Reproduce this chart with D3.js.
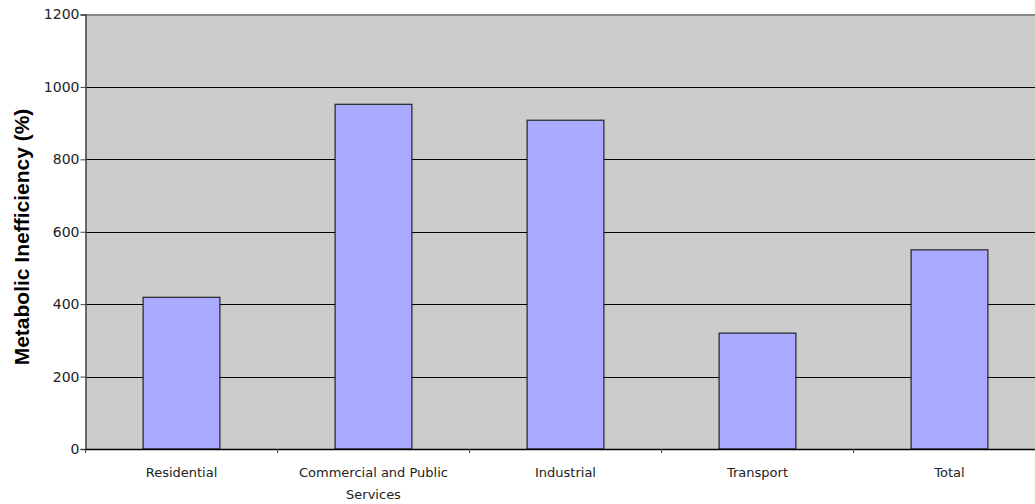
<!DOCTYPE html>
<html>
<head>
<meta charset="utf-8">
<script src="https://cdn.jsdelivr.net/npm/d3@7"></script>
<style>
  html, body { margin: 0; padding: 0; background: #fff; }
  svg { display: block; }
</style>
</head>
<body>
<svg id="chart" width="1035" height="504"></svg>
<script>
// Metabolic inefficiency by sector
const categories = ["Residential", "Commercial and Public Services", "Industrial", "Transport", "Total"];
const categoryLines = [["Residential"], ["Commercial and Public", "Services"], ["Industrial"], ["Transport"], ["Total"]];
const values = [419, 952, 908, 320, 550];
const yTicks = [0, 200, 400, 600, 800, 1000, 1200];
const yTitle = "Metabolic Inefficiency (%)";

const svg = d3.select("#chart");
const plotLeft = 85.5, plotTop = 14.5, plotBottom = 449, band = 192;
const plotRight = plotLeft + band * categories.length;

const x = d3.scaleBand().domain(categories).range([plotLeft, plotRight]).padding(0);
const y = d3.scaleLinear().domain([0, 1200]).range([plotBottom, plotTop]);

// plot background
svg.append("rect")
  .attr("x", plotLeft).attr("y", plotTop)
  .attr("width", plotRight - plotLeft).attr("height", plotBottom - plotTop)
  .attr("fill", "#cccccc");

// horizontal gridlines
svg.append("g")
  .selectAll("line")
  .data(yTicks.filter(d => d > 0 && d < 1200))
  .join("line")
  .attr("x1", plotLeft).attr("x2", plotRight)
  .attr("y1", d => Math.round(y(d)) + 0.5).attr("y2", d => Math.round(y(d)) + 0.5)
  .attr("stroke", "#000").attr("stroke-width", 1);

// top border
svg.append("line")
  .attr("x1", plotLeft).attr("x2", plotRight)
  .attr("y1", plotTop + 0.5).attr("y2", plotTop + 0.5)
  .attr("stroke", "#888").attr("stroke-width", 2);

// bars
const barW = x.bandwidth() * 0.4;
svg.append("g")
  .selectAll("rect")
  .data(values)
  .join("rect")
  .attr("x", (d, i) => x(categories[i]) + (x.bandwidth() - barW) / 2)
  .attr("y", d => y(d))
  .attr("width", barW)
  .attr("height", d => plotBottom - y(d))
  .attr("fill", "#aaaaff")
  .attr("stroke", "#222")
  .attr("stroke-width", 1.2);

// y axis
const yAxis = d3.axisLeft(y).tickValues(yTicks).tickFormat(d3.format("d")).tickSize(5).tickPadding(1);
const gy = svg.append("g").attr("transform", `translate(${plotLeft},0)`).call(yAxis);
gy.select(".domain").attr("stroke", "#444").attr("stroke-width", 1.5);
gy.selectAll(".tick line").attr("stroke", "#444");
gy.selectAll(".tick text")
  .attr("font-family", "DejaVu Sans, sans-serif")
  .attr("font-size", 14)
  .attr("fill", "#222");

// x axis
const xAxis = d3.axisBottom(x).tickSize(0).tickFormat(() => "");
const gx = svg.append("g").attr("transform", `translate(0,${plotBottom})`).call(xAxis);
gx.select(".domain").attr("stroke", "#000").attr("stroke-width", 1.5);

// category boundary ticks
svg.append("g")
  .selectAll("line")
  .data(categories.slice(1).map(c => x(c)).concat([plotLeft]))
  .join("line")
  .attr("x1", d => d).attr("x2", d => d)
  .attr("y1", plotBottom).attr("y2", plotBottom + 4)
  .attr("stroke", "#444").attr("stroke-width", 1);

// category labels
const labels = svg.append("g")
  .selectAll("text")
  .data(categories)
  .join("text")
  .attr("x", d => x(d) + x.bandwidth() / 2)
  .attr("y", 477)
  .attr("text-anchor", "middle")
  .attr("font-family", "DejaVu Sans, sans-serif")
  .attr("font-size", 13)
  .attr("fill", "#222");
labels.each(function(d, i) {
  const t = d3.select(this);
  categoryLines[i].forEach((line, j) => {
    t.append("tspan")
      .attr("x", x(d) + x.bandwidth() / 2)
      .attr("dy", j === 0 ? 0 : 22)
      .text(line);
  });
});

// y axis title
svg.append("text")
  .attr("transform", `translate(29,237) rotate(-90)`)
  .attr("text-anchor", "middle")
  .attr("font-family", "Liberation Sans, Arial, sans-serif")
  .attr("font-weight", "bold")
  .attr("font-size", 21)
  .attr("fill", "#000")
  .text(yTitle);
</script>
</body>
</html>
